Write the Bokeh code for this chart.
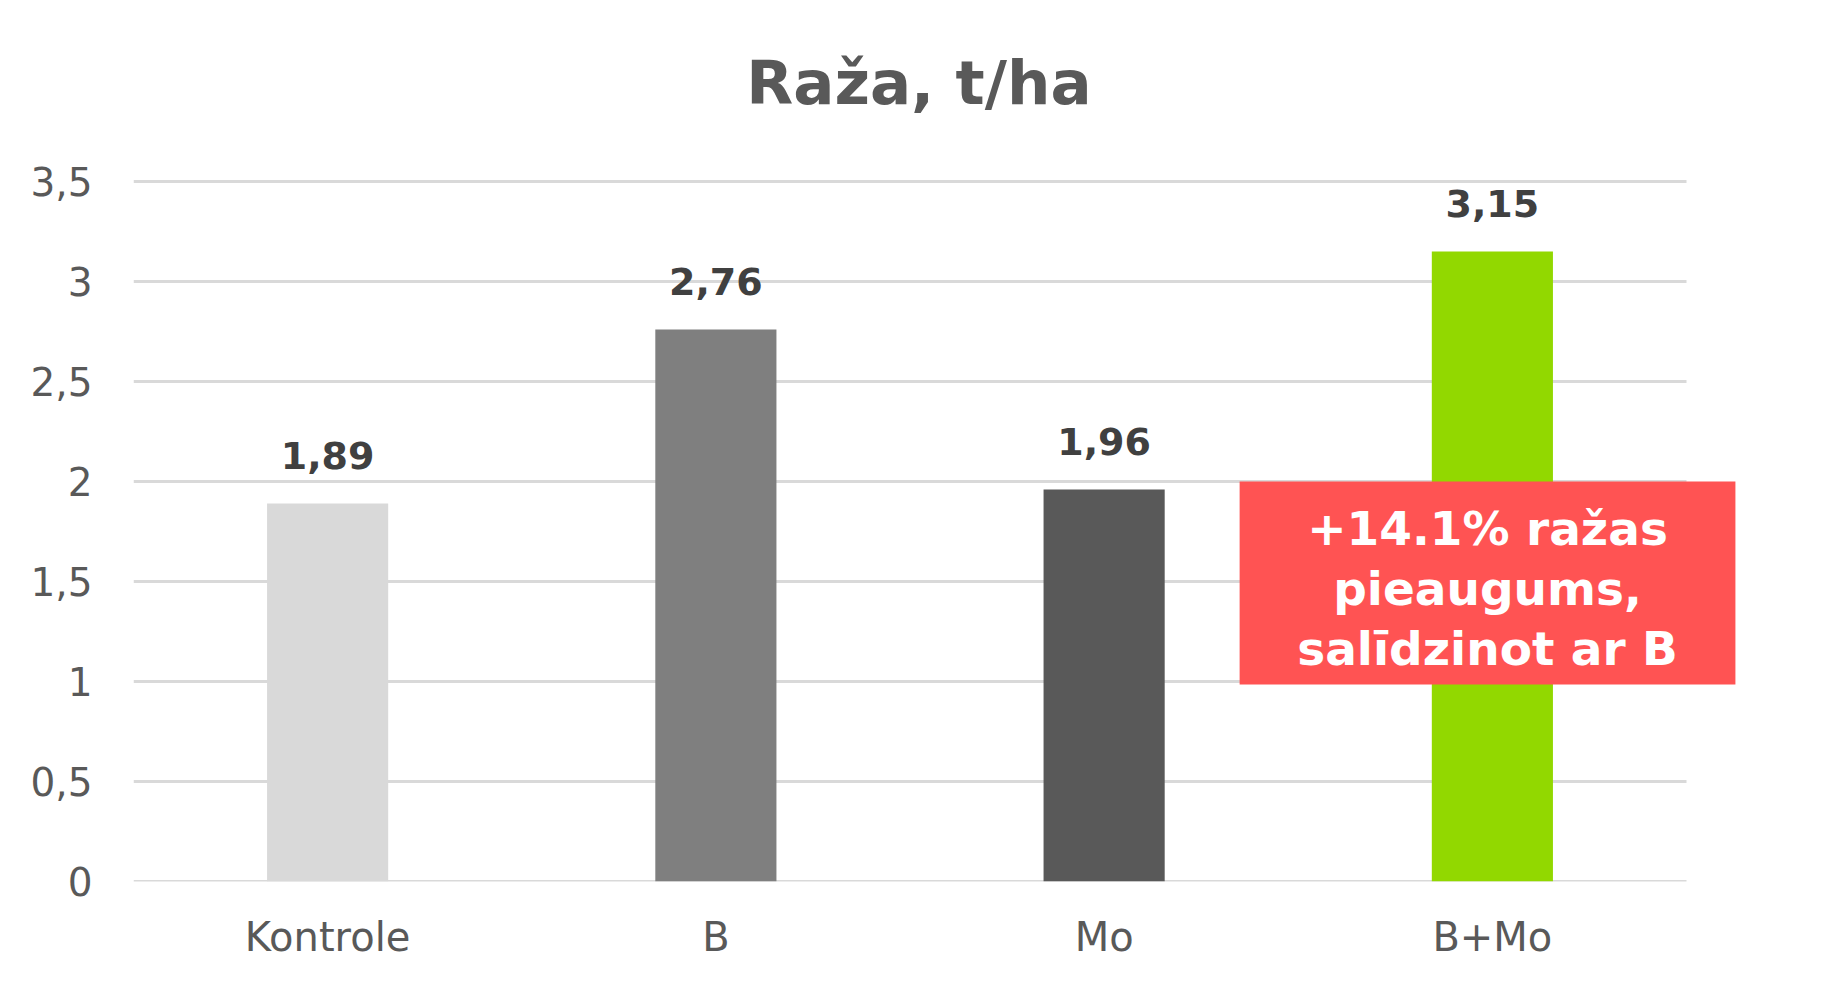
from bokeh.plotting import figure
from bokeh.models import ColumnDataSource, FixedTicker, Label, BoxAnnotation, Range1d
from bokeh.core.properties import value
from bokeh.embed import file_html
from bokeh.resources import INLINE

categories = ["Kontrole", "B", "Mo", "B+Mo"]
yields = [1.89, 2.76, 1.96, 3.15]
value_labels = ["1,89", "2,76", "1,96", "3,15"]
bar_colors = ["#d9d9d9", "#7f7f7f", "#595959", "#92d800"]
y_ticks = [0, 0.5, 1, 1.5, 2, 2.5, 3, 3.5]
y_tick_labels = ["0", "0,5", "1", "1,5", "2", "2,5", "3", "3,5"]
title_text = "Raža, t/ha"
note_lines = ["+14.1% ražas", "pieaugums,", "salīdzinot ar B"]

FONT = "DejaVu Sans"
W, H = 1820, 975
ML, MR, MT, MB = 133, 75, 10, 94
frame_w = W - ML - MR
frame_h = H - MT - MB
unit_px = 388.25
y_px = 200.0
x_end = frame_w / unit_px
y_end = frame_h / y_px

xs = [i + 0.5 for i in range(len(categories))]
src = ColumnDataSource(dict(x=xs, top=yields, color=bar_colors, lab=value_labels,
                            ly=[v + 0.24 for v in yields]))

p = figure(width=W, height=H, output_backend="svg", toolbar_location=None,
           x_range=Range1d(0, x_end), y_range=Range1d(0, y_end),
           min_border_left=ML, min_border_right=MR, min_border_top=MT, min_border_bottom=MB)
p.outline_line_color = None
p.background_fill_color = "white"
p.border_fill_color = "white"
p.xgrid.visible = False
p.ygrid.visible = False

# gridlines
p.segment(x0=[0] * len(y_ticks), x1=[len(categories)] * len(y_ticks), y0=y_ticks, y1=y_ticks,
          line_color="#d9d9d9", line_width=3)

p.vbar(x="x", top="top", width=0.312, bottom=0, color="color", source=src, line_color=None)

p.text(x="x", y="ly", text="lab", source=src, text_font=value(FONT), text_font_style="bold",
       text_font_size="38px", text_color="#404040", text_align="center", text_baseline="alphabetic")

# axes
p.yaxis.ticker = FixedTicker(ticks=y_ticks)
p.yaxis.major_label_overrides = {t: l for t, l in zip(y_ticks, y_tick_labels)}
p.xaxis.ticker = FixedTicker(ticks=xs)
p.xaxis.major_label_overrides = {x: c for x, c in zip(xs, categories)}
for ax in (p.xaxis, p.yaxis):
    ax.axis_line_color = None
    ax.major_tick_line_color = None
    ax.minor_tick_line_color = None
    ax.major_tick_out = 0
    ax.major_tick_in = 0
    ax.major_label_text_font = FONT
    ax.major_label_text_color = "#595959"
p.yaxis.major_label_standoff = 41
p.yaxis.major_label_text_font_size = "39px"
p.xaxis.major_label_text_font_size = "40px"
p.xaxis.major_label_standoff = 32

# title
p.add_layout(Label(x=2.023, y=3.997, text=title_text, text_font=FONT, text_font_style="bold",
                   text_font_size="61px", text_color="#595959", text_align="center",
                   text_baseline="alphabetic"))

# red note box
p.add_layout(BoxAnnotation(left=2.849, right=4.126, bottom=0.985, top=2.0,
                           fill_color="#ff5353", fill_alpha=1.0, line_color=None))
for line, yy in zip(note_lines, [1.765, 1.465, 1.165]):
    p.add_layout(Label(x=3.4875, y=yy, text=line, text_font=FONT, text_font_style="bold",
                       text_font_size="47px", text_color="white", text_align="center",
                       text_baseline="alphabetic"))

open("out.html", "w").write(file_html(p, INLINE))
